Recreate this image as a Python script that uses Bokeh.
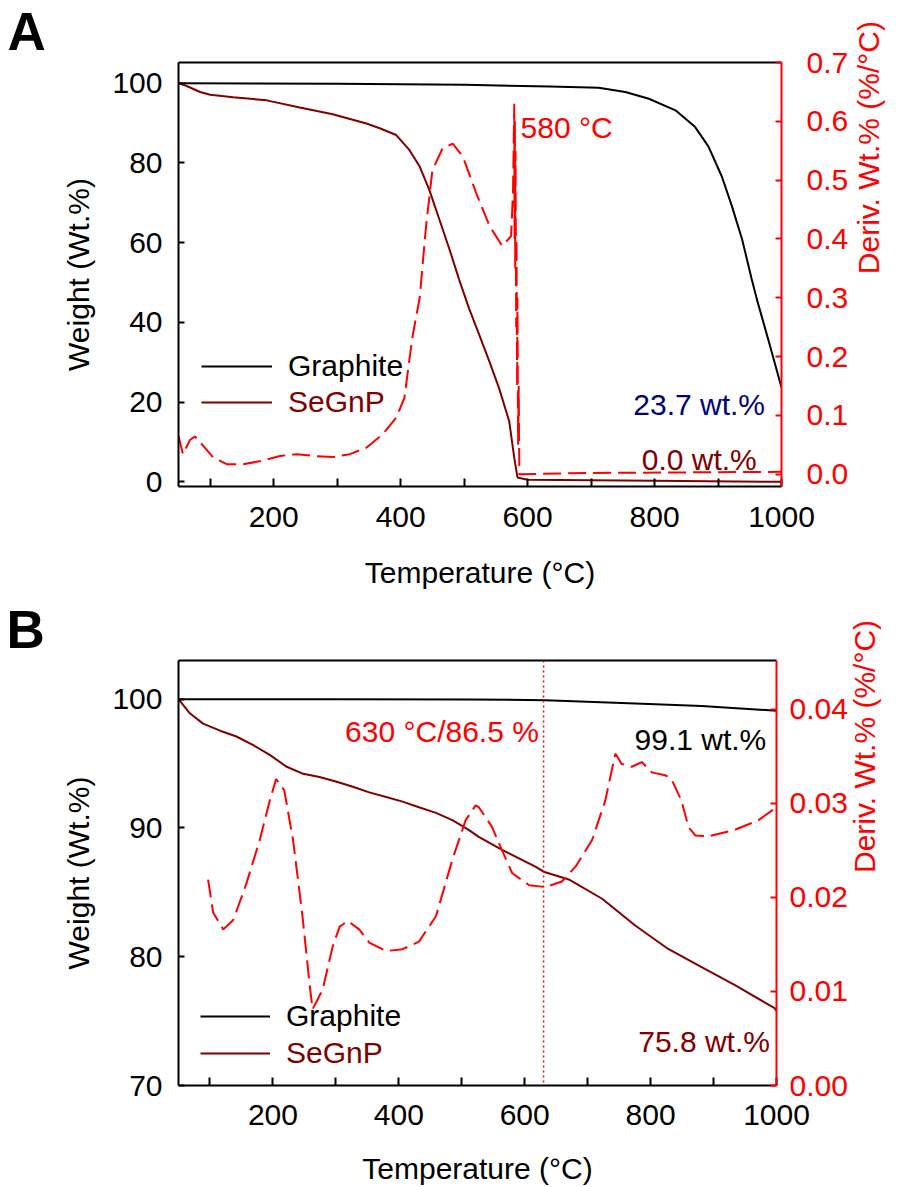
import math
from bokeh.plotting import figure
from bokeh.models import (LinearAxis, Range1d, FixedTicker, Legend, LegendItem,
                          Label, Span, PrintfTickFormatter, Title)
from bokeh.layouts import column
from bokeh.embed import file_html
from bokeh.resources import INLINE

# ---------------- data: panel A ----------------
tA_graphite = [50, 300, 500, 635, 712, 754, 791, 833, 864, 885, 906, 922, 938, 953, 961, 980, 1000]
wA_graphite = [100.0, 99.9, 99.6, 99.2, 98.85, 97.8, 96.1, 93.2, 89.0, 84.1, 76.6, 69.1, 60.8, 50.9, 45.9, 35.2, 23.7]

tA_segnp = [50, 60, 70, 84, 100, 136, 189, 241, 293, 346, 367, 393, 414, 430, 445, 461, 477, 492,
            508, 524, 540, 555, 571, 579, 584, 600, 800, 1000]
wA_segnp = [100.0, 99.5, 98.8, 97.8, 97.1, 96.5, 95.7, 93.9, 92.2, 89.9, 88.7, 87.0, 83.2, 79.1, 73.3,
            65.8, 58.3, 50.8, 43.4, 36.8, 30.1, 23.5, 15.2, 6.0, 1.1, 0.5, 0.3, 0.0]

tA_deriv = [50, 57, 62, 68, 76, 89, 105, 126, 152, 183, 210, 236, 262, 293, 320, 346, 372, 393, 406, 414,
            419, 430, 440, 450, 466, 482, 498, 519, 540, 560, 574, 577, 579, 579.5, 580, 580.5, 581, 582,
            582.5, 583.5, 584, 585, 586, 587, 700, 850, 1000]
dA_deriv = [0.065, 0.034, 0.045, 0.058, 0.064, 0.048, 0.028, 0.017, 0.017, 0.023, 0.031, 0.034, 0.031,
            0.029, 0.034, 0.045, 0.068, 0.096, 0.130, 0.197, 0.236, 0.300, 0.422, 0.517, 0.554, 0.562,
            0.540, 0.478, 0.422, 0.388, 0.405, 0.48, 0.63, 0.40, 0.60, 0.35, 0.55, 0.25, 0.40, 0.15,
            0.30, 0.05, 0.15, 0.0, 0.002, 0.003, 0.004]

# ---------------- data: panel B ----------------
tB_graphite = [50, 300, 511, 633, 776, 881, 1000]
wB_graphite = [100.0, 100.0, 99.98, 99.92, 99.67, 99.46, 99.1]

tB_segnp = [50, 68, 89, 116, 142, 168, 195, 221, 248, 274, 300, 327, 353, 380, 406, 432, 459, 485, 511,
            527, 564, 617, 630, 670, 723, 776, 828, 881, 934, 997, 1000]
wB_segnp = [100.0, 98.9, 98.1, 97.55, 97.1, 96.45, 95.67, 94.77, 94.2, 93.95, 93.6, 93.2, 92.76, 92.4,
            92.04, 91.6, 91.17, 90.6, 89.85, 89.3, 88.3, 87.0, 86.6, 86.0, 84.5, 82.4, 80.6, 79.2, 77.8,
            76.0, 75.8]

tB_deriv = [97, 105, 121, 137, 158, 179, 195, 205, 218, 232, 247, 258, 263, 279, 295, 306, 319, 337, 353,
            380, 406, 432, 459, 485, 506, 522, 527, 548, 564, 580, 607, 633, 659, 681, 707, 728, 744, 754,
            770, 786, 802, 823, 833, 849, 860, 871, 892, 934, 971, 1000]
dB_deriv = [0.0219, 0.0184, 0.0166, 0.0176, 0.0215, 0.0261, 0.0303, 0.0326, 0.0314, 0.0261, 0.0180,
            0.0109, 0.0081, 0.0102, 0.0148, 0.0169, 0.0175, 0.0166, 0.0152, 0.0143, 0.0145, 0.0153,
            0.0180, 0.0240, 0.0282, 0.0298, 0.0296, 0.0275, 0.0250, 0.0226, 0.0213, 0.0211, 0.0217,
            0.0233, 0.0261, 0.0303, 0.0353, 0.0342, 0.0339, 0.0344, 0.0333, 0.0330, 0.0326, 0.0303,
            0.0275, 0.0266, 0.0265, 0.0272, 0.0282, 0.0296]

marker_temp_B = 630

x_major = [200, 400, 600, 800, 1000]
x_minor = [100, 300, 500, 700, 900]
yA_ticks = [0, 20, 40, 60, 80, 100]
yA_right_ticks = [0.0, 0.1, 0.2, 0.3, 0.4, 0.5, 0.6, 0.7]
yB_ticks = [70, 80, 90, 100]
yB_right_ticks = [0.0, 0.01, 0.02, 0.03, 0.04]

FONT = "Liberation Sans"
FS = "30px"
RED = "#FF0000"
MAROON = "#800000"
NAVY = "#000080"
DERIV_TITLE = "Deriv. Wt.% (%/°C)"


def style_axis(ax, color, tick_len, standoff, label_standoff):
    ax.axis_line_color = color
    ax.axis_line_width = 2
    ax.major_tick_line_color = color
    ax.major_tick_line_width = 2
    ax.minor_tick_line_color = color
    ax.minor_tick_line_width = 2
    ax.major_tick_in = tick_len
    ax.major_tick_out = 0
    ax.minor_tick_in = tick_len
    ax.minor_tick_out = 0
    ax.major_label_text_color = color
    ax.major_label_text_font = FONT
    ax.major_label_text_font_size = FS
    ax.axis_label_text_font = FONT
    ax.axis_label_text_font_size = FS
    ax.axis_label_text_font_style = "normal"
    ax.axis_label_text_color = color
    ax.major_label_standoff = standoff
    ax.axis_label_standoff = label_standoff


def top_border(p):
    ax = LinearAxis(ticker=FixedTicker(ticks=[]))
    ax.axis_line_color = "black"
    ax.axis_line_width = 2
    ax.major_tick_in = 0
    ax.major_tick_out = 0
    ax.minor_tick_in = 0
    ax.minor_tick_out = 0
    ax.major_label_text_font_size = "0px"
    ax.major_label_standoff = 0
    p.add_layout(ax, "above")


def right_title(p, range_name, mid, standoff):
    # rotated title on the right side, reading bottom-to-top
    ax = LinearAxis(y_range_name=range_name, ticker=FixedTicker(ticks=[mid]),
                    major_label_overrides={mid: DERIV_TITLE})
    ax.axis_line_color = None
    ax.major_tick_line_color = None
    ax.minor_tick_line_color = None
    ax.major_tick_in = 0
    ax.major_tick_out = 0
    ax.minor_tick_in = 0
    ax.minor_tick_out = 0
    ax.major_label_orientation = math.pi / 2
    ax.major_label_text_color = RED
    ax.major_label_text_font = FONT
    ax.major_label_text_font_size = FS
    ax.major_label_standoff = standoff
    p.add_layout(ax, "right")


def panel_letter(p, letter, offset):
    p.add_layout(Title(text=letter, align="left", vertical_align="top", offset=offset, standoff=0,
                       text_font=FONT, text_font_size="53px", text_font_style="bold",
                       text_color="black"), "above")


def add_legend(p, renderer, label, color, x, y, gw, standoff):
    leg = Legend(items=[LegendItem(label=label, renderers=[renderer])], location=(x, y))
    leg.padding = 0
    leg.margin = 0
    leg.spacing = 0
    leg.glyph_width = gw
    leg.glyph_height = 34
    leg.label_height = 34
    leg.label_standoff = standoff
    leg.border_line_color = None
    leg.background_fill_alpha = 0
    leg.label_text_font = FONT
    leg.label_text_font_size = FS
    leg.label_text_color = color
    p.add_layout(leg)


def txt(p, x, y, text, color, align="right"):
    p.add_layout(Label(x=x, y=y, text=text, text_color=color, text_font=FONT, text_font_size=FS,
                       text_align=align, text_baseline="alphabetic"))


# ---------------- panel A ----------------
pA = figure(width=905, height=591, x_range=Range1d(50, 1000), y_range=Range1d(-1.17, 105.2),
            output_backend="svg", toolbar_location=None, title=None,
            min_border_left=178, min_border_right=122, min_border_top=62, min_border_bottom=102,
            x_axis_label="Temperature (°C)", y_axis_label="Weight (Wt.%)")
pA.outline_line_color = None
pA.xgrid.visible = False
pA.ygrid.visible = False
pA.extra_y_ranges = {"d": Range1d(-0.021, 0.7)}

pA.xaxis.ticker = FixedTicker(ticks=x_major, minor_ticks=x_minor)
pA.yaxis.ticker = FixedTicker(ticks=yA_ticks)
style_axis(pA.xaxis[0], "black", 8, 20, 26)
style_axis(pA.yaxis[0], "black", 6, 16, 14)

rA = LinearAxis(y_range_name="d", ticker=FixedTicker(ticks=yA_right_ticks),
                formatter=PrintfTickFormatter(format="%.1f"))
style_axis(rA, RED, 6, 25, 0)
pA.add_layout(rA, "right")
right_title(pA, "d", 0.34, 17)
top_border(pA)
panel_letter(pA, "A", -171)

gA = pA.line(tA_graphite, wA_graphite, line_color="black", line_width=2)
sA = pA.line(tA_segnp, wA_segnp, line_color=MAROON, line_width=2)
pA.line(tA_deriv, dA_deriv, line_color=RED, line_width=2, line_dash="18 7", y_range_name="d")

add_legend(pA, gA, "Graphite", "black", 23, 103, 71, 16)
add_legend(pA, sA, "SeGnP", MAROON, 23, 67, 71, 16)

txt(pA, 589, 89.0, "580 °C", RED, align="left")
txt(pA, 974, 19.3, "23.7 wt.%", NAVY)
txt(pA, 961, 5.6, "0.0 wt.%", MAROON)

# ---------------- panel B ----------------
pB = figure(width=900, height=596, x_range=Range1d(50, 1000), y_range=Range1d(70, 103.0),
            output_backend="svg", toolbar_location=None, title=None,
            min_border_left=178, min_border_right=122, min_border_top=69, min_border_bottom=100,
            x_axis_label="Temperature (°C)", y_axis_label="Weight (Wt.%)")
pB.outline_line_color = None
pB.xgrid.visible = False
pB.ygrid.visible = False
pB.extra_y_ranges = {"d": Range1d(0.0, 0.0452)}

pB.xaxis.ticker = FixedTicker(ticks=x_major, minor_ticks=x_minor)
pB.yaxis.ticker = FixedTicker(ticks=yB_ticks)
style_axis(pB.xaxis[0], "black", 8, 19, 24)
style_axis(pB.yaxis[0], "black", 6, 16, 14)

rB = LinearAxis(y_range_name="d", ticker=FixedTicker(ticks=yB_right_ticks),
                formatter=PrintfTickFormatter(format="%.2f"))
style_axis(rB, RED, 6, 13, 0)
pB.add_layout(rB, "right")
right_title(pB, "d", 0.0226, 14)
top_border(pB)
panel_letter(pB, "B", -172)

gB = pB.line(tB_graphite, wB_graphite, line_color="black", line_width=2)
sB = pB.line(tB_segnp, wB_segnp, line_color=MAROON, line_width=2)
pB.line(tB_deriv, dB_deriv, line_color=RED, line_width=2, line_dash="18 7", y_range_name="d")
pB.add_layout(Span(location=marker_temp_B, dimension="height", line_color=RED,
                   line_width=1.5, line_dash="2 3"))

add_legend(pB, gB, "Graphite", "black", 22, 52, 70, 16)
add_legend(pB, sB, "SeGnP", MAROON, 22, 15, 70, 16)

txt(pB, 622.5, 97.47, "630 °C/86.5 %", RED)
txt(pB, 983.7, 96.83, "99.1 wt.%", "black")
txt(pB, 989.6, 73.42, "75.8 wt.%", MAROON)

layout = column(pA, pB)
open("out.html", "w").write(file_html(layout, INLINE))
